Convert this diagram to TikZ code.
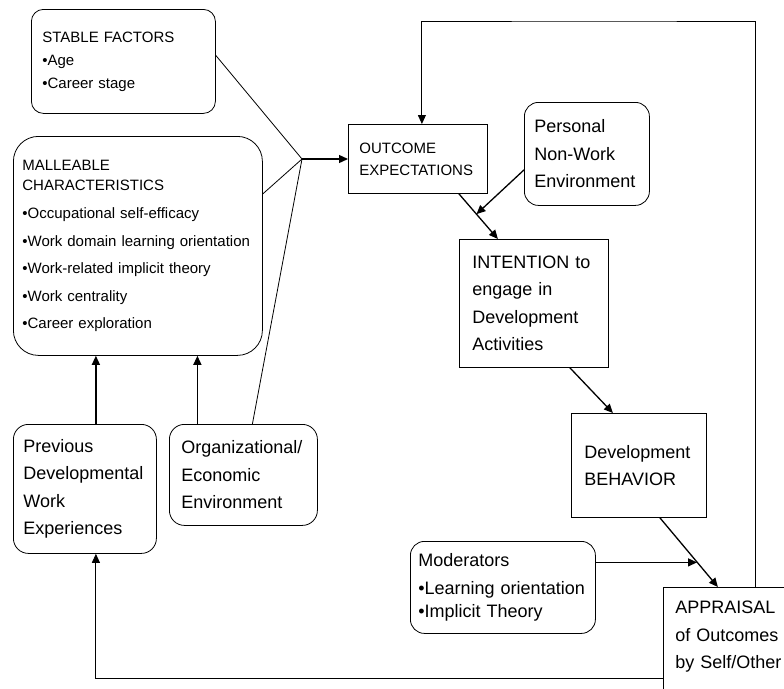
\documentclass[tikz,border=0pt]{standalone}
\usepackage{fontspec}
\setmainfont{Liberation Sans}
\usetikzlibrary{arrows.meta}
\hyphenpenalty=10000

\begin{document}
\begin{tikzpicture}[x=1pt, y=-1pt,
        box/.style={draw, line width=0.8pt, anchor=north west, align=left, inner ysep=2pt},
        rbox/.style={box, rounded corners=14pt},
        smalltext/.style={font=\fontsize{15}{23}\selectfont},
        bigtext/.style={font=\fontsize{18}{27.5}\selectfont},
        arr/.style={line width=1.3pt, -{Triangle[length=9pt, width=8pt]}},
        thin/.style={line width=0.8pt}]
        \useasboundingbox (0,0) rectangle (784,688);
        \node[rbox, smalltext, rounded corners=12pt, inner xsep=11pt, text width=162pt, minimum height=104pt] (stable) at (31,9)
                {STABLE FACTORS\\\textbullet Age\\\textbullet Career stage};
        \node[rbox, font=\fontsize{15}{20}\selectfont, rounded corners=25pt, inner xsep=9pt, text width=231pt, minimum height=219pt] (mall) at (13,136)
                {MALLEABLE\\CHARACTERISTICS\\[8pt]\textbullet Occupational self-efficacy\\[7.5pt]\textbullet Work domain learning orientation\\[7.5pt]\textbullet Work-related implicit theory\\[7.5pt]\textbullet Work centrality\\[7.5pt]\textbullet Career exploration};
        \node[rbox, bigtext, rounded corners=15pt, inner xsep=10pt, text width=123pt, minimum height=129pt] (prev) at (13,424)
                {Previous\\Developmental\\Work\\Experiences};
        \node[rbox, bigtext, rounded corners=15pt, inner xsep=12pt, text width=124pt, minimum height=101pt] (org) at (169,424)
                {Organizational/\\Economic\\Environment};
        \node[box, font=\fontsize{15}{22}\selectfont, inner xsep=11pt, text width=117pt, minimum height=69pt] (outc) at (348,124)
                {OUTCOME\\EXPECTATIONS};
        \node[rbox, bigtext, inner xsep=10pt, text width=105pt, minimum height=103pt] (pers) at (524,102)
                {Personal\\Non-Work\\Environment};
        \node[box, bigtext, inner xsep=13pt, text width=123pt, minimum height=128pt] (inte) at (459,239)
                {INTENTION to\\engage in\\Development\\Activities};
        \node[box, bigtext, inner xsep=13pt, text width=109pt, minimum height=104pt] (dev) at (571,413)
                {Development\\BEHAVIOR};
        \node[rbox, font=\fontsize{18}{23.5}\selectfont, inner xsep=8pt, text width=169pt, minimum height=92pt] (moder) at (410,541)
                {Moderators\\[4.5pt]\textbullet Learning orientation\\\textbullet Implicit Theory};
        \node[box, bigtext, inner xsep=12pt, inner ysep=14pt, text width=125pt] (appr) at (663,587)
                {APPRAISAL\\of Outcomes\\by Self/Other\\[40pt]\mbox{}};
        % inputs meet before outcome expectations
        \coordinate (hub) at (302,159);
        \draw[thin] ([yshift=6pt]stable.east) -- (hub);
        \draw[thin] ([yshift=52pt]mall.east) -- (hub);
        \draw[thin] ([xshift=9pt]org.north) -- (hub);
        \draw[arr] (hub) -- (hub -| outc.west);
        \draw[arr] ([xshift=11pt]prev.north) -- ([xshift=11pt]prev.north |- mall.south);
        \draw[arr] ([xshift=-46pt]org.north) -- ([xshift=-46pt]org.north |- mall.south);
        % main chain
        \draw[arr] ([xshift=41pt]outc.south) -- coordinate[pos=0.45] (persin) ([xshift=-36pt]inte.north);
        \draw[arr] ([yshift=-16pt]pers.west) -- (persin);
        \draw[arr] ([xshift=36pt]inte.south) -- ([xshift=-26pt]dev.north);
        \draw[arr] ([xshift=21pt]dev.south) -- coordinate[pos=0.64] (modin) ([xshift=-20pt]appr.north);
        \draw[arr] ([yshift=25pt]moder.east) -- ([yshift=25pt]moder.east -| modin);
        % feedback loops
        \coordinate (loop) at (600,21);
        \draw[arr, line width=0.9pt] ([xshift=18pt]appr.north) |- (loop) -| ([xshift=4pt]outc.north);
        \draw[arr, line width=0.9pt] (appr.west |- 0,678) -| ([xshift=11pt]prev.south);
\end{tikzpicture}
\end{document}
